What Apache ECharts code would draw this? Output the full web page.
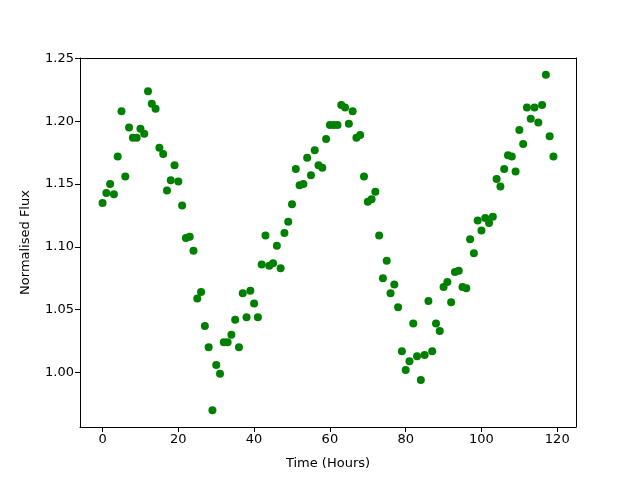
<!DOCTYPE html>
<html>
<head>
  <meta charset="utf-8">
  <script src="https://cdn.jsdelivr.net/npm/echarts@6/dist/echarts.min.js"></script>
</head>
<body style="margin:0">
<div id="main" style="width:640px;height:480px"></div>
<script>
  // hours since start, one point per hour
  const hours = Array.from({length: 120}, (v, i) => i);
  const flux = [
    1.135, 1.143, 1.150, 1.142, 1.172, 1.208, 1.156, 1.195, 1.187, 1.187,
    1.194, 1.190, 1.224, 1.214, 1.210, 1.179, 1.174, 1.145, 1.153, 1.165,
    1.152, 1.133, 1.107, 1.108, 1.097, 1.059, 1.064, 1.037, 1.020, 0.970,
    1.006, 0.999, 1.024, 1.024, 1.030, 1.042, 1.020, 1.063, 1.044, 1.065,
    1.055, 1.044, 1.086, 1.109, 1.085, 1.087, 1.101, 1.083, 1.111, 1.120,
    1.134, 1.162, 1.149, 1.150, 1.171, 1.157, 1.177, 1.165, 1.163, 1.186,
    1.197, 1.197, 1.197, 1.213, 1.211, 1.198, 1.208, 1.187, 1.189, 1.156,
    1.136, 1.138, 1.144, 1.109, 1.075, 1.089, 1.063, 1.070, 1.052, 1.017,
    1.002, 1.009, 1.039, 1.013, 0.994, 1.014, 1.057, 1.017, 1.039, 1.033,
    1.068, 1.072, 1.056, 1.080, 1.081, 1.068, 1.067, 1.106, 1.095, 1.121,
    1.113, 1.123, 1.119, 1.124, 1.154, 1.148, 1.162, 1.173, 1.172, 1.160,
    1.193, 1.182, 1.211, 1.202, 1.211, 1.199, 1.213, 1.237, 1.188, 1.172
  ];
  const xTicks = [0, 20, 40, 60, 80, 100, 120];
  const yTicks = [1.00, 1.05, 1.10, 1.15, 1.20, 1.25];

  const chart = echarts.init(document.getElementById('main'));
  const font = 'DejaVu Sans';
  const xMin = -5.95, xMax = 124.95, yMin = 0.9566, yMax = 1.2504;
  const line = {show: true, onZero: false, lineStyle: {color: '#000', width: 1}};
  const tick = {show: true, inside: false, length: 5, lineStyle: {color: '#000'}};
  const label = {fontFamily: font, fontSize: 13, color: '#000', margin: 6};
  const nameStyle = {fontFamily: font, fontSize: 13, color: '#000'};
  // plain spine for the top and right edges
  const spine = {axisLine: line, axisTick: {show: false}, axisLabel: {show: false}, splitLine: {show: false}};

  chart.setOption({
    animation: false,
    grid: {left: 80, right: 64, top: 58, bottom: 53},
    xAxis: [{
      type: 'value', position: 'bottom',
      min: xMin, max: xMax,
      name: 'Time (Hours)', nameLocation: 'middle', nameGap: 30, nameTextStyle: nameStyle,
      axisLine: line,
      axisTick: Object.assign({}, tick, {customValues: xTicks}),
      axisLabel: Object.assign({}, label, {customValues: xTicks}),
      splitLine: {show: false}
    }, Object.assign({type: 'value', position: 'top', min: xMin, max: xMax}, spine)],
    yAxis: [{
      type: 'value', position: 'left',
      min: yMin, max: yMax,
      name: 'Normalised Flux', nameLocation: 'middle', nameGap: 48, nameTextStyle: nameStyle,
      axisLine: line,
      axisTick: Object.assign({}, tick, {customValues: yTicks}),
      axisLabel: Object.assign({}, label, {customValues: yTicks, formatter: v => v.toFixed(2)}),
      splitLine: {show: false}
    }, Object.assign({type: 'value', position: 'right', min: yMin, max: yMax}, spine)],
    series: [{
      type: 'scatter',
      symbolSize: 8,
      itemStyle: {color: '#008000', opacity: 1},
      data: hours.map((h, i) => [h, flux[i]])
    }]
  });
</script>
</body>
</html>
